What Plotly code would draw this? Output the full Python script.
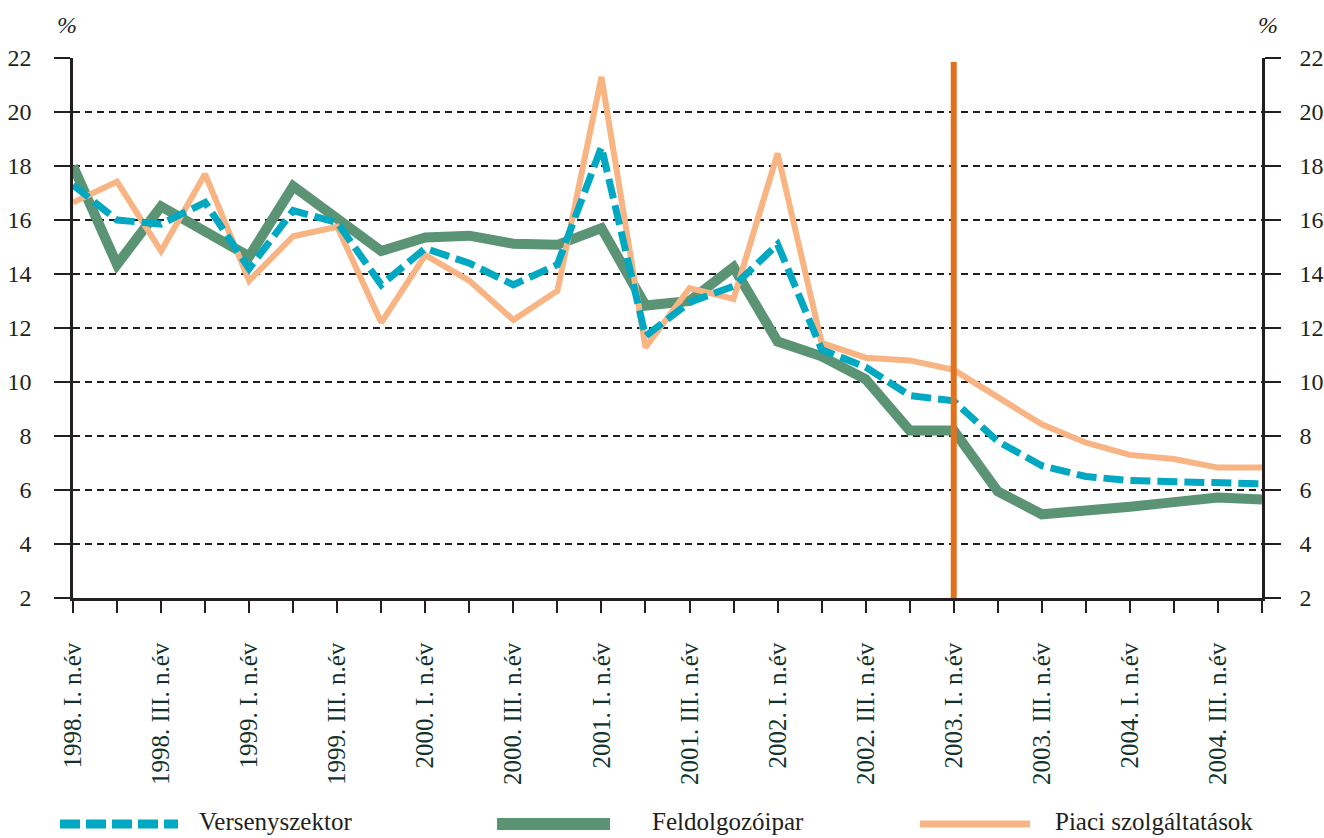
import plotly.graph_objects as go

# Quarterly periods, 1998 Q1 - 2004 Q4
periods = [f"{y}. {q}. n.év" for y in range(1998, 2005) for q in ("I", "II", "III", "IV")]
tick_labels = ["1998. I. n.év", "1998. III. n.év", "1999. I. n.év", "1999. III. n.év",
               "2000. I. n.év", "2000. III. n.év", "2001. I. n.év", "2001. III. n.év",
               "2002. I. n.év", "2002. III. n.év", "2003. I. n.év", "2003. III. n.év",
               "2004. I. n.év", "2004. III. n.év"]

versenyszektor = [17.3, 16.0, 15.85, 16.65, 14.2, 16.35, 15.9, 13.6, 14.95, 14.4,
                  13.6, 14.35, 18.7, 11.7, 12.95, 13.55, 15.1, 11.2, 10.55, 9.5,
                  9.3, 7.8, 6.9, 6.5, 6.35, 6.3, 6.27, 6.23]
feldolgozoipar = [18.0, 14.35, 16.5, 15.6, 14.65, 17.25, 16.0, 14.85, 15.35, 15.42,
                  15.12, 15.08, 15.7, 12.83, 13.0, 14.25, 11.5, 10.95, 10.1, 8.2,
                  8.2, 5.95, 5.1, 5.2, 5.38, 5.55, 5.72, 5.65]
piaci = [16.65, 17.42, 14.85, 17.7, 13.75, 15.4, 15.75, 12.2, 14.7, 13.75,
         12.3, 13.38, 21.3, 11.28, 13.48, 13.08, 18.47, 11.45, 10.9, 10.8,
         10.45, 9.45, 8.43, 7.75, 7.3, 7.15, 6.83, 6.83]

marker_period = "2003. I. n.év"
y_ticks = list(range(2, 23, 2))

BLUE = "#00a8c2"
GREEN = "#5b9474"
PEACH = "#f9b484"
ORANGE = "#e2711d"
INK = "#231f20"
SERIF = "Times New Roman"

ticktext = [p if p in tick_labels else "" for p in periods]

fig = go.Figure()
fig.add_trace(go.Scatter(x=periods, y=feldolgozoipar, mode="lines", name="Feldolgozóipar",
                         line=dict(color=GREEN, width=10), showlegend=False))
fig.add_trace(go.Scatter(x=periods, y=piaci, mode="lines", name="Piaci szolgáltatások",
                         line=dict(color=PEACH, width=6), showlegend=False))
fig.add_trace(go.Scatter(x=periods, y=versenyszektor, mode="lines", name="Versenyszektor",
                         line=dict(color=BLUE, width=7, dash="20px,7px"), showlegend=False))
# companion trace so the right-hand axis is drawn
fig.add_trace(go.Scatter(x=periods, y=versenyszektor, mode="lines", yaxis="y2",
                         line=dict(color="rgba(0,0,0,0)", width=0), hoverinfo="skip",
                         showlegend=False))

# vertical marker at 2003 Q1
fig.add_shape(type="line", xref="x", yref="y", x0=marker_period, x1=marker_period,
              y0=2, y1=21.85, line=dict(color=ORANGE, width=6), layer="above")

# legend drawn along the bottom
PX_L, PX_W, PX_B, PX_H = 73, 1189, 598, 540
def px_x(px):
    return (px - PX_L) / PX_W
def px_y(py):
    return (PX_B - py) / PX_H

legend_items = [
    ("Versenyszektor", BLUE, 9, "20px,6px", 60, 178, 197),
    ("Feldolgozóipar", GREEN, 12, "solid", 497, 610, 650),
    ("Piaci szolgáltatások", PEACH, 7, "solid", 920, 1030, 1053),
]
ly = 824
for text, col, w, dash, x0, x1, tx in legend_items:
    fig.add_shape(type="line", xref="paper", yref="paper",
                  x0=px_x(x0), x1=px_x(x1), y0=px_y(ly), y1=px_y(ly),
                  line=dict(color=col, width=w, dash=dash))
    fig.add_annotation(xref="paper", yref="paper", x=px_x(tx), y=px_y(837),
                       text=text, showarrow=False, xanchor="left", yanchor="bottom",
                       font=dict(family=SERIF, size=25, color=INK))

for xp in (67, 1268):
    fig.add_annotation(xref="paper", yref="paper", x=px_x(xp), y=px_y(25),
                       text="<i>%</i>", showarrow=False, xanchor="center", yanchor="middle",
                       font=dict(family=SERIF, size=24, color=INK))

yaxis_common = dict(range=[2, 22], tickvals=y_ticks, ticks="outside", ticklen=16,
                    tickwidth=2, tickcolor=INK, showline=True, linewidth=2.5,
                    linecolor=INK, zeroline=False, automargin=False,
                    tickfont=dict(family=SERIF, size=24, color=INK))

fig.update_layout(
    width=1324, height=838, autosize=False,
    font=dict(family=SERIF, color=INK),
    margin=dict(l=73, r=62, t=58, b=240),
    plot_bgcolor="white", paper_bgcolor="white",
    xaxis=dict(type="category", categoryorder="array", categoryarray=periods,
               range=[0, 27], tickvals=periods, ticktext=ticktext, tickangle=-90,
               ticks="outside", ticklen=12, tickwidth=2, tickcolor=INK,
               showline=True, linewidth=2.5, linecolor=INK, showgrid=False,
               ticklabelstandoff=20, automargin=False,
               tickfont=dict(family=SERIF, size=25, color="#12332b")),
    yaxis=dict(showgrid=True, gridcolor=INK, gridwidth=2, griddash="7px,5px",
               ticklabelstandoff=18, **yaxis_common),
    yaxis2=dict(overlaying="y", side="right", showgrid=False,
                ticklabelstandoff=14, **yaxis_common),
)

fig.write_html("out.html")
